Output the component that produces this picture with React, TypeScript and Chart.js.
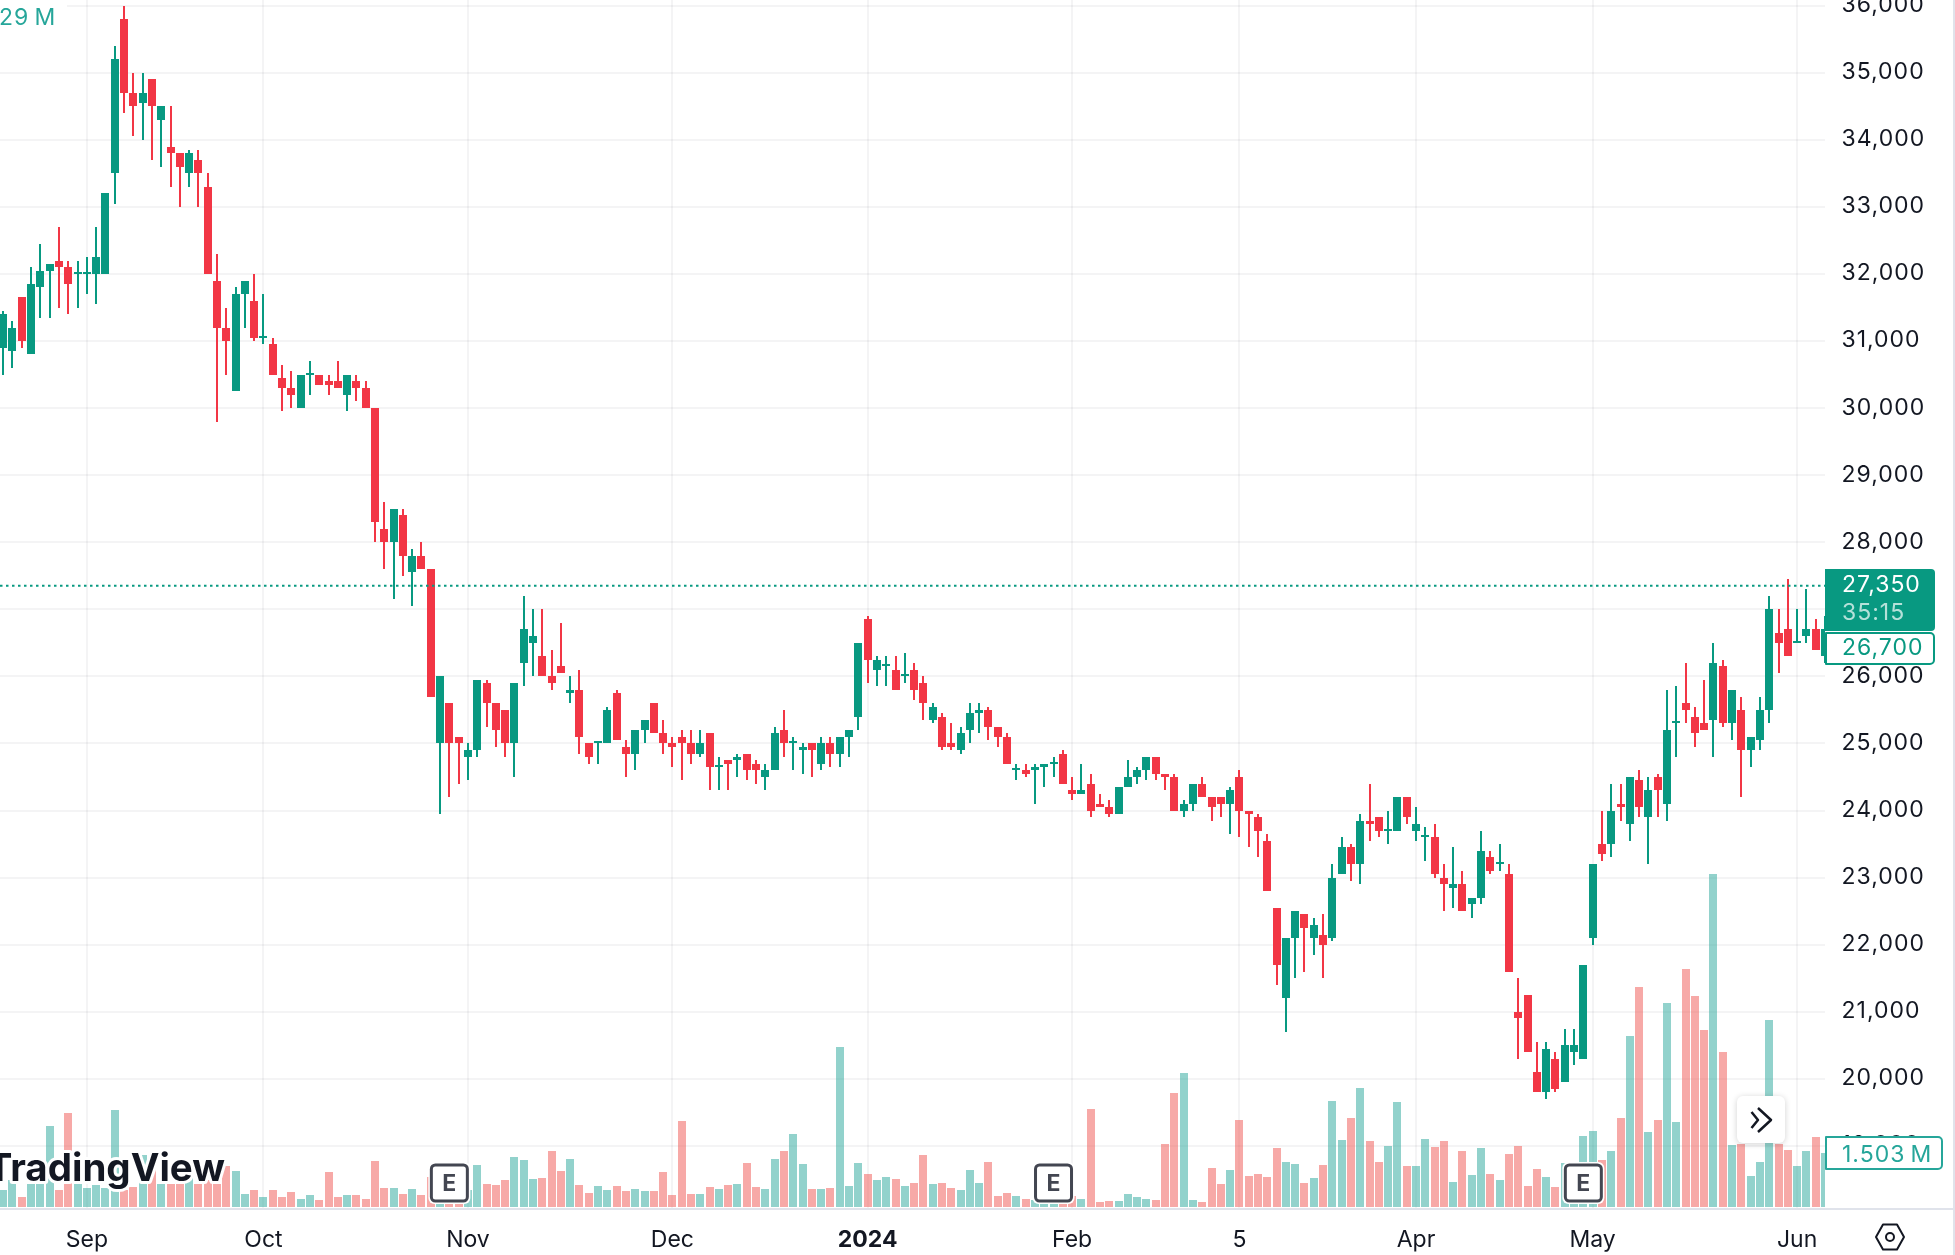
import { useEffect, useRef } from "react";
import { Chart, registerables } from "chart.js";

Chart.register(...registerables);

const opens = [
  30900,30850,31650,30800,31800,32050,32200,32100,32000,32000,
  32000,32000,33500,35800,34700,34550,34900,34300,33900,33800,
  33500,33700,33300,31900,31200,30250,31700,31600,31050,30950,
  30450,30300,30000,30500,30500,30400,30400,30200,30400,30300,
  30000,28200,28000,28400,27550,27800,27600,25000,25600,25100,
  24800,24900,25900,25600,25500,25000,26200,26500,26300,26000,
  26150,25750,25800,25000,25000,25000,25750,24950,24850,25200,
  25600,25150,25000,25100,25000,24850,25150,24650,24750,24750,
  24850,24700,24500,24600,25200,25000,24900,25000,24700,25000,
  24850,25100,25400,26850,26100,26150,26100,26000,26100,25900,
  25350,25400,25000,24900,25200,25450,25500,25250,25100,24600,
  24600,24600,24650,24700,24850,24300,24250,24400,24100,24050,
  23950,24350,24500,24600,24800,24550,24500,24000,24100,24400,
  24200,24200,24100,24500,24000,23900,23550,22550,21200,22100,
  22450,22100,22150,22100,23050,23450,23200,23850,23900,23700,
  23700,24200,23700,23600,23600,23000,22850,22900,22600,22700,
  23300,23200,23050,21000,21250,20100,19800,20300,19950,20400,
  20300,22100,23500,23500,24100,23800,24450,23900,24500,24100,
  25300,25600,25400,25300,25350,26150,25300,25500,24900,25050,
  25500,26650,26700,26500,26600,26700,26300,
];
const highs = [
  31450,31300,31650,32100,32450,32150,32700,32200,32200,32250,
  32700,33200,35400,36000,35000,35000,34900,34500,34500,33800,
  33850,33850,33500,32300,31500,31800,31900,32000,31700,31050,
  30650,30550,30500,30700,30500,30500,30700,30500,30500,30400,
  30000,28600,28500,28500,27900,28000,27600,26000,25600,25100,
  25000,25950,25950,25600,25500,25900,27200,27000,27000,26400,
  26800,26000,26100,25000,25000,25550,25800,25050,25200,25350,
  25600,25350,25100,25200,25200,25200,25150,24800,24750,24850,
  24850,24750,24700,25250,25500,25100,25000,25000,25100,25100,
  25100,25200,26500,26900,26300,26300,26300,26350,26200,26000,
  25600,25450,25300,25250,25600,25600,25550,25250,25150,24700,
  24700,24700,24700,24800,24900,24500,24700,24550,24250,24150,
  24350,24750,24650,24800,24800,24550,24550,24150,24400,24500,
  24200,24200,24350,24600,24000,23950,23650,22550,22100,22500,
  22450,22400,22450,23200,23600,23500,23950,24400,23900,24000,
  24200,24200,24050,23750,23800,23200,23450,23100,22700,23700,
  23400,23500,23200,21500,21250,20550,20550,20400,20750,20750,
  21700,23200,24000,24400,24400,24500,24600,24500,24550,25800,
  25850,26200,25550,25950,26500,26250,25800,25700,25100,25700,
  27200,27000,27450,27000,27300,26850,26900,
];
const lows = [
  30500,30600,30900,30800,31350,31350,31500,31400,31500,31700,
  31550,32000,33050,34400,34050,34000,33700,33600,33300,33000,
  33300,33000,32000,29800,30500,30250,31200,31000,30950,30500,
  29950,30000,30000,30200,30350,30200,30300,29950,30100,30000,
  28000,27600,27150,27500,27050,27600,25700,23950,24200,24400,
  24450,24800,25250,24950,24800,24500,25850,26000,26000,25800,
  26050,25600,24850,24700,24700,25000,25050,24500,24600,25000,
  25150,24850,24650,24450,24700,24800,24300,24300,24300,24500,
  24450,24400,24300,24600,24800,24600,24550,24500,24600,24650,
  24650,24800,25200,25900,25850,25850,25800,25900,25650,25350,
  25300,24900,24900,24850,25000,25150,25050,24950,24700,24450,
  24500,24100,24350,24500,24400,24150,24250,23900,24050,23900,
  23950,24350,24400,24450,24450,24300,24000,23900,24000,24200,
  23850,23900,23650,23600,23450,23300,22800,21400,20700,21500,
  21600,21850,21500,22050,23050,22950,22900,23550,23600,23500,
  23700,23800,23550,23250,23000,22500,22550,22500,22400,22600,
  23050,23100,21600,20300,20400,19800,19700,19800,19950,20200,
  20300,22000,23250,23300,23850,23550,23900,23200,23900,23850,
  24800,25300,24950,25200,24800,25250,25050,24200,24650,24900,
  25300,26050,26300,26500,26500,26400,26200,
];
const closes = [
  31400,31200,31000,31850,32050,32150,32100,31850,32000,32000,
  32250,33200,35200,34700,34500,34700,34500,34500,33800,33600,
  33800,33500,32000,31200,31000,31700,31900,31050,31050,30500,
  30300,30200,30500,30500,30350,30350,30300,30500,30300,30000,
  28300,28000,28500,27800,27800,27600,25700,26000,25000,25000,
  24900,25950,25600,25200,25000,25900,26700,26600,26000,25900,
  26050,25800,25100,24800,25000,25500,25050,24850,25200,25350,
  25150,25000,24950,25000,24850,25000,24650,24650,24700,24800,
  24600,24600,24600,25150,25000,25000,24950,24900,25000,24850,
  25100,25200,26500,26250,26250,26150,25800,26000,25800,25600,
  25550,24950,24950,25150,25450,25500,25250,25100,24700,24600,
  24550,24650,24700,24700,24400,24250,24300,24000,24050,23950,
  24350,24500,24600,24800,24550,24500,24000,24100,24400,24200,
  24050,24100,24300,24000,23950,23700,22800,21700,22100,22500,
  22250,22300,22000,23000,23450,23200,23850,23800,23700,23700,
  24200,23900,23800,23600,23050,22900,22900,22500,22700,23400,
  23100,23200,21600,20900,20400,19800,20450,19850,20500,20500,
  21700,23200,23350,24000,24050,24500,24050,24300,24300,25200,
  25300,25500,25150,25200,26200,25300,25800,24900,25100,25500,
  27000,26500,26300,26500,26700,26400,26700,
];
// millions of shares
const volumes = [
  .47,.75,.28,.64,.64,2.26,.47,2.63,.64,.53,
  .61,.53,2.71,.47,.56,1.45,1.17,.64,.64,.64,
  .85,.64,.75,.64,1.15,1.01,.36,.47,.28,.47,
  .28,.42,.22,.34,.2,.98,.28,.34,.34,.22,
  1.28,.53,.53,.36,.5,.34,.85,.29,.29,.29,
  .47,1.17,.64,.61,.75,1.4,1.31,.78,.81,1.56,
  1.01,1.34,.61,.39,.59,.47,.59,.45,.5,.45,
  .45,.98,.34,2.4,.36,.36,.56,.5,.61,.64,
  1.23,.56,.5,1.34,1.56,2.04,1.2,.5,.5,.53,
  4.47,.59,1.23,.92,.75,.84,.78,.59,.67,1.45,
  .64,.67,.53,.47,1.03,.67,1.26,.31,.39,.31,
  .22,.2,.15,.2,.15,.31,.22,2.74,.14,.17,
  .17,.36,.28,.22,.2,1.76,3.18,3.74,.2,.14,
  1.09,.64,1.03,2.43,.87,.92,.84,1.65,1.26,1.2,
  .66,.8,1.16,2.95,1.86,2.48,3.31,1.83,1.25,1.69,
  2.92,1.14,1.14,1.89,1.67,1.83,.69,1.55,.88,1.64,
  .91,.74,1.47,1.69,.58,1.05,.83,.55,1.22,.65,
  1.97,2.11,1.3,1.55,2.48,4.77,6.14,2.09,2.42,5.69,
  2.36,6.64,5.88,4.93,9.29,4.32,1.72,1.77,.86,1.25,
  5.21,1.77,1.58,1.14,1.55,1.95,1.5,
];
const priceTicks = [
  19000,20000,21000,22000,23000,24000,25000,26000,27000,
  28000,29000,30000,31000,32000,33000,34000,35000,36000,
];
const timeTickBars = [9, 28, 50, 72, 93, 115, 133, 152, 171, 193];
const timeTickLabels = ["Sep", "Oct", "Nov", "Dec", "2024", "Feb", "5", "Apr", "May", "Jun"];
const earningsBars = [48, 113, 170];

const lastPrice = 27350;
const countdown = "35:15";
const currentPrice = "26,700";
const currentVolume = "1.503\u202fM";
const legendVolume = "29\u202fM";

const GREEN = "#089981";
const RED = "#F23645";
const VOL_GREEN = "rgba(38,166,154,0.5)";
const VOL_RED = "rgba(239,83,80,0.5)";
const TEAL = "#26a69a";
const INK = "#131722";
const GRID = "rgba(42,46,57,0.05)";
const FONT = "Inter";
const PRICE_SPACING = "1px";
const PRICE_LABEL_NUDGE = 0.5;
const barX = opens.map((_, i) => i);
const isUp = (i: number) => closes[i] >= opens[i];

// the original snaps every bar to whole pixels, so no antialiased edges
const snapBars = {
  id: "snapBars",
  afterDatasetsUpdate(chart: any) {
    chart.data.datasets.forEach((_: any, i: number) => {
      chart.getDatasetMeta(i).data.forEach((el: any) => {
        el.x = Math.round(el.x);
        el.y = Math.round(el.y);
        el.base = Math.round(el.base);
      });
    });
  },
};

// price labels are spaced wider than the time labels and sit a bit above their grid line
const priceLabelStyle = {
  id: "priceLabelStyle",
  beforeDraw(chart: any) {
    chart.ctx.letterSpacing = "0px";
  },
  afterDatasetsDraw(chart: any) {
    chart.ctx.letterSpacing = PRICE_SPACING;
    chart.ctx.translate(0, -PRICE_LABEL_NUDGE);
  },
};

// everything TradingView paints on top of the series
const overlays = {
  id: "overlays",
  afterDraw(chart: any) {
    const { ctx, scales } = chart;
    ctx.translate(0, PRICE_LABEL_NUDGE);
    const priceY = scales.y.getPixelForValue(lastPrice);
    ctx.save();
    ctx.letterSpacing = "0px";

    ctx.strokeStyle = GREEN;
    ctx.lineWidth = 2;
    ctx.setLineDash([2.5, 3.5]);
    ctx.beginPath();
    ctx.moveTo(0, priceY);
    ctx.lineTo(1825, priceY);
    ctx.stroke();
    ctx.setLineDash([]);

    // frame
    ctx.fillStyle = "#e0e3eb";
    ctx.fillRect(0, 1208, 1955, 2);
    ctx.fillRect(1953, 0, 2, 1255);

    // logo
    ctx.font = `700 38.5px ${FONT}`;
    ctx.textBaseline = "middle";
    ctx.textAlign = "right";
    ctx.lineJoin = "round";
    ctx.strokeStyle = "#fff";
    ctx.lineWidth = 6;
    ctx.strokeText("TradingView", 225, 1169);
    ctx.fillStyle = INK;
    ctx.fillText("TradingView", 225, 1169);

    // earnings badges
    ctx.textAlign = "center";
    for (const bar of earningsBars) {
      const x = scales.x.getPixelForValue(bar);
      ctx.beginPath();
      ctx.roundRect(x - 21, 1162, 42, 42, 6);
      ctx.fillStyle = "#fff";
      ctx.fill();
      ctx.beginPath();
      ctx.roundRect(x - 18, 1165, 36, 36, 4);
      ctx.strokeStyle = "#434651";
      ctx.lineWidth = 3;
      ctx.stroke();
      ctx.fillStyle = "#434651";
      ctx.font = `700 23px ${FONT}`;
      ctx.fillText("E", x, 1184);
    }

    // scroll-to-latest button
    ctx.save();
    ctx.shadowColor = "rgba(0,0,0,0.18)";
    ctx.shadowBlur = 6;
    ctx.shadowOffsetY = 1;
    ctx.fillStyle = "#fff";
    ctx.beginPath();
    ctx.roundRect(1737, 1096, 48, 47, 6);
    ctx.fill();
    ctx.restore();
    ctx.strokeStyle = INK;
    ctx.lineWidth = 2.5;
    ctx.beginPath();
    ctx.moveTo(1751.5, 1112);
    ctx.lineTo(1758, 1120);
    ctx.lineTo(1751.5, 1128);
    ctx.moveTo(1758, 1108);
    ctx.lineTo(1771, 1120);
    ctx.lineTo(1758, 1132);
    ctx.stroke();

    // settings icon
    ctx.lineWidth = 2;
    ctx.beginPath();
    ctx.moveTo(1876, 1237);
    ctx.lineTo(1883, 1224.5);
    ctx.lineTo(1897, 1224.5);
    ctx.lineTo(1904, 1237);
    ctx.lineTo(1897, 1249.5);
    ctx.lineTo(1883, 1249.5);
    ctx.closePath();
    ctx.stroke();
    ctx.beginPath();
    ctx.arc(1890, 1237, 4, 0, Math.PI * 2);
    ctx.stroke();

    ctx.letterSpacing = PRICE_SPACING;
    ctx.font = `23px ${FONT}`;
    ctx.textAlign = "left";

    // legend remainder
    ctx.fillStyle = "#fff";
    ctx.fillRect(0, 0, 67, 26);
    ctx.fillStyle = TEAL;
    ctx.fillText(legendVolume, -1, 18);

    // price tags
    ctx.fillStyle = GREEN;
    ctx.beginPath();
    ctx.roundRect(1825, 569, 110, 62, [0, 4, 4, 0]);
    ctx.fill();
    ctx.fillStyle = "#fff";
    ctx.fillText(lastPrice.toLocaleString("en-US"), 1842, 585);
    ctx.fillStyle = "rgba(255,255,255,0.7)";
    ctx.fillText(countdown, 1842, 613.5);

    ctx.beginPath();
    ctx.roundRect(1826, 633, 108, 31, [0, 4, 4, 0]);
    ctx.fillStyle = "#fff";
    ctx.fill();
    ctx.strokeStyle = GREEN;
    ctx.stroke();
    ctx.fillStyle = GREEN;
    ctx.fillText(currentPrice, 1842, 648);

    ctx.beginPath();
    ctx.roundRect(1826, 1137, 116, 32, [0, 4, 4, 0]);
    ctx.fillStyle = "#fff";
    ctx.fill();
    ctx.strokeStyle = TEAL;
    ctx.stroke();
    ctx.fillStyle = TEAL;
    ctx.fillText(currentVolume, 1842, 1155);

    ctx.restore();
  },
};

export default function App() {
  const canvasRef = useRef<HTMLCanvasElement>(null);

  useEffect(() => {
    if (!canvasRef.current) return;
    const chart = new Chart(canvasRef.current, {
      type: "bar",
      data: {
        datasets: [
          {
            label: "Open / Close",
            data: barX.map((x) => ({ x, y: [opens[x], closes[x]] })) as any,
            backgroundColor: barX.map((i) => (isUp(i) ? GREEN : RED)),
            barThickness: 8,
            minBarLength: 2,
            inflateAmount: 0,
            grouped: false,
            order: 1,
            yAxisID: "y",
          },
          {
            label: "High / Low",
            data: barX.map((x) => ({ x, y: [lows[x], highs[x]] })) as any,
            backgroundColor: barX.map((i) => (isUp(i) ? GREEN : RED)),
            barThickness: 2,
            inflateAmount: 0,
            grouped: false,
            order: 2,
            yAxisID: "y",
          },
          {
            label: "Volume",
            data: barX.map((x) => ({ x, y: volumes[x] })) as any,
            backgroundColor: barX.map((i) => (isUp(i) ? VOL_GREEN : VOL_RED)),
            barThickness: 8,
            inflateAmount: 0,
            grouped: false,
            order: 3,
            yAxisID: "vol",
          },
        ],
      },
      options: {
        animation: false,
        responsive: false,
        devicePixelRatio: 1,
        layout: { padding: 0 },
        plugins: { legend: { display: false }, tooltip: { enabled: false } },
        scales: {
          x: {
            type: "linear",
            min: -0.344,
            max: 196,
            offset: false,
            border: { display: false },
            grid: { color: GRID, lineWidth: 2, drawTicks: false, offset: false },
            ticks: {
              autoSkip: false,
              maxRotation: 0,
              padding: 17,
              color: INK,
              z: 0,
              font: (ctx: any) =>
                ctx.tick?.value === 93
                  ? { family: FONT, size: 23, weight: "700" }
                  : { family: FONT, size: 23 },
              callback: (v: any) => timeTickLabels[timeTickBars.indexOf(Number(v))] ?? "",
            },
            afterBuildTicks: (scale: any) => {
              scale.ticks = timeTickBars.map((value) => ({ value }));
            },
            afterFit: (scale: any) => {
              scale.height = 46;
              scale.paddingLeft = 0;
              scale.paddingRight = 0;
            },
          },
          y: {
            type: "linear",
            position: "right",
            min: 18059,
            max: 36085,
            border: { display: false },
            grid: { color: GRID, lineWidth: 2, drawTicks: false, offset: false },
            ticks: {
              autoSkip: false,
              padding: 16.5,
              color: INK,
              z: 1,
              font: { family: FONT, size: 23 },
              callback: (v: any) => Number(v).toLocaleString("en-US"),
            },
            afterBuildTicks: (scale: any) => {
              scale.ticks = priceTicks.map((value) => ({ value }));
            },
            afterFit: (scale: any) => {
              scale.width = 130;
              scale.paddingTop = 0;
              scale.paddingBottom = 0;
            },
          },
          vol: {
            type: "linear",
            display: false,
            min: -0.056,
            max: 33.7,
          },
        },
      } as any,
      plugins: [snapBars, priceLabelStyle, overlays],
    });
    return () => chart.destroy();
  }, []);

  return (
    <div style={{ position: "absolute", left: 0, top: 0, width: 1955, height: 1255, background: "#fff" }}>
      <canvas ref={canvasRef} width={1955} height={1255} style={{ display: "block" }} role="img" aria-label="Candlestick chart with volume" />
    </div>
  );
}
